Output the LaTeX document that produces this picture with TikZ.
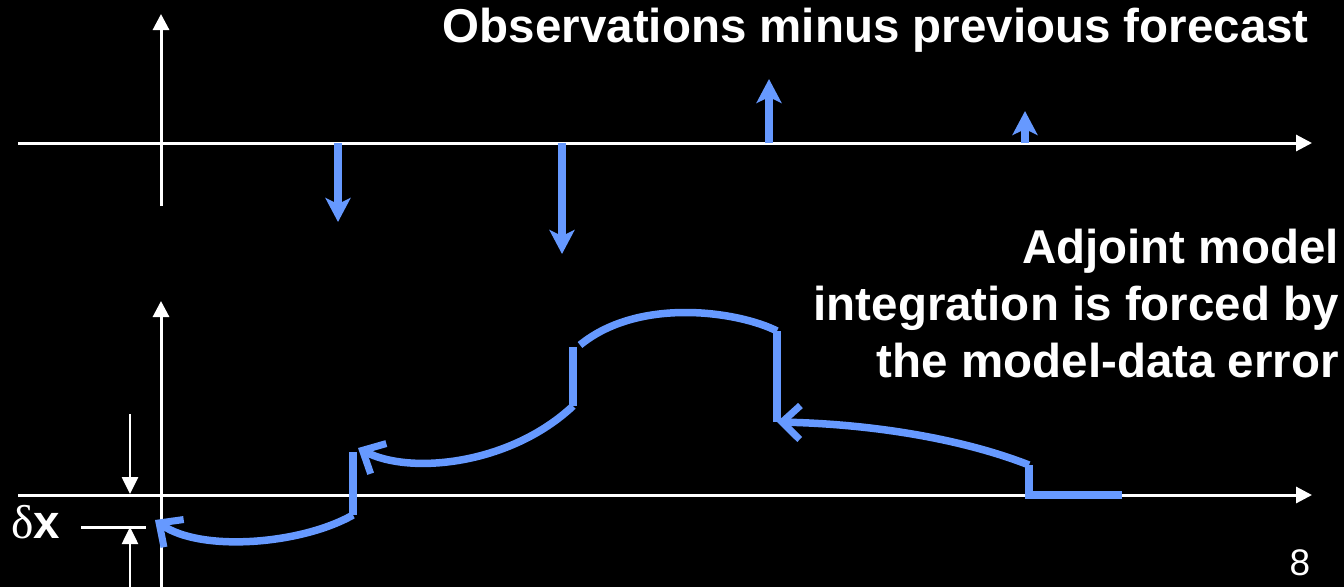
\documentclass[tikz,border=0pt]{standalone}
\usepackage{fontspec}
\setmainfont{Liberation Sans}
\newfontfamily\serifgreek{Liberation Serif}
\usetikzlibrary{arrows.meta}
\definecolor{curveblue}{RGB}{102,153,255}
\tikzset{
  axis/.style={draw=white, line width=3pt, -{Triangle[length=16pt,width=16pt]}},
  plainaxis/.style={draw=white, line width=3pt},
  obsarrow/.style={draw=curveblue, line width=8.5pt, -{Stealth[length=24pt,width=25pt,inset=6pt]}},
  adj/.style={draw=curveblue, line width=7.5pt, line cap=butt, line join=miter},
  adjarrow/.style={adj, -{Straight Barb[length=18pt,width=34pt,line width=7pt]}},
  dim/.style={draw=white, line width=2.6pt, -{Triangle[length=17pt,width=16pt]}},
  label/.style={text=white, font=\fontsize{47.5}{57}\selectfont\bfseries, inner sep=0pt},
}
\begin{document}
\begin{tikzpicture}[x=1pt,y=-1pt]
\useasboundingbox[fill=black] (0,0) rectangle (1344,587);
% top axes
\coordinate (t1) at (18,143);
\coordinate (t2) at (1312,143);
\coordinate (tv1) at (161,206);
\coordinate (tv2) at (161,14);
\draw[axis] (t1) -- (t2);
\draw[axis] (tv1) -- (tv2);
% bottom axes
\coordinate (b1) at (18,495);
\coordinate (b2) at (1312,495);
\coordinate (bv1) at (161,590);
\coordinate (bv2) at (161,301);
\draw[axis] (b1) -- (b2);
\draw[axis] (bv1) -- (bv2);
% observation increments
\coordinate (o1s) at (338,143); \coordinate (o1e) at (338,222);
\coordinate (o2s) at (562,143); \coordinate (o2e) at (562,254);
\coordinate (o3s) at (769,143); \coordinate (o3e) at (769,79);
\coordinate (o4s) at (1025,143); \coordinate (o4e) at (1025,111);
\draw[obsarrow] (o1s) -- (o1e);
\draw[obsarrow] (o2s) -- (o2e);
\draw[obsarrow] (o3s) -- (o3e);
\draw[obsarrow] (o4s) -- (o4e);
% adjoint curve
\coordinate (a0) at (1122,495);
\coordinate (a1) at (1029,495);
\coordinate (a2) at (1029,465);
\coordinate (a3) at (777,422);
\coordinate (a4) at (777,331);
\coordinate (a5) at (580,345);
\coordinate (a6) at (573,347);
\coordinate (a7) at (573,406);
\coordinate (a8) at (358,448);
\coordinate (a9) at (353,452);
\coordinate (a10) at (353,515);
\coordinate (a11) at (155,520);
\draw[adj] (a0) -- (a1) -- (a2);
\draw[adjarrow] (a2) .. controls (960,438) and (870,424) .. (a3);
\draw[adj] (a3) -- (a4);
\draw[adj] (a4) .. controls (740,312) and (640,296) .. (a5);
\draw[adj] (a6) -- (a7);
\draw[adjarrow] (a7) .. controls (510,465) and (410,475) .. (a8);
\draw[adj] (a9) -- (a10);
\draw[adjarrow] (a10) .. controls (300,545) and (200,552) .. (a11);
% delta x marker
\coordinate (d1) at (130,414); \coordinate (d2) at (130,494);
\coordinate (d3) at (130,590); \coordinate (d4) at (130,527);
\coordinate (l1) at (81,527); \coordinate (l2) at (146,527);
\draw[dim] (d1) -- (d2);
\draw[dim] (d3) -- (d4);
\draw[plainaxis] (l1) -- (l2);
\node[label, anchor=base west] (dx) at (11,538) {{\serifgreek\mdseries δ}x};
% texts
\node[label, anchor=base east] (obs) at (1309,42) {Observations minus previous forecast};
\node[label, anchor=base east, align=right] (adjtxt) at (1339,377) {Adjoint model\\integration is forced by\\the model-data error};
\node[text=white, font=\fontsize{37}{40}\selectfont, inner sep=0pt, anchor=base] (pg) at (1300,575) {8};
\end{tikzpicture}
\end{document}
